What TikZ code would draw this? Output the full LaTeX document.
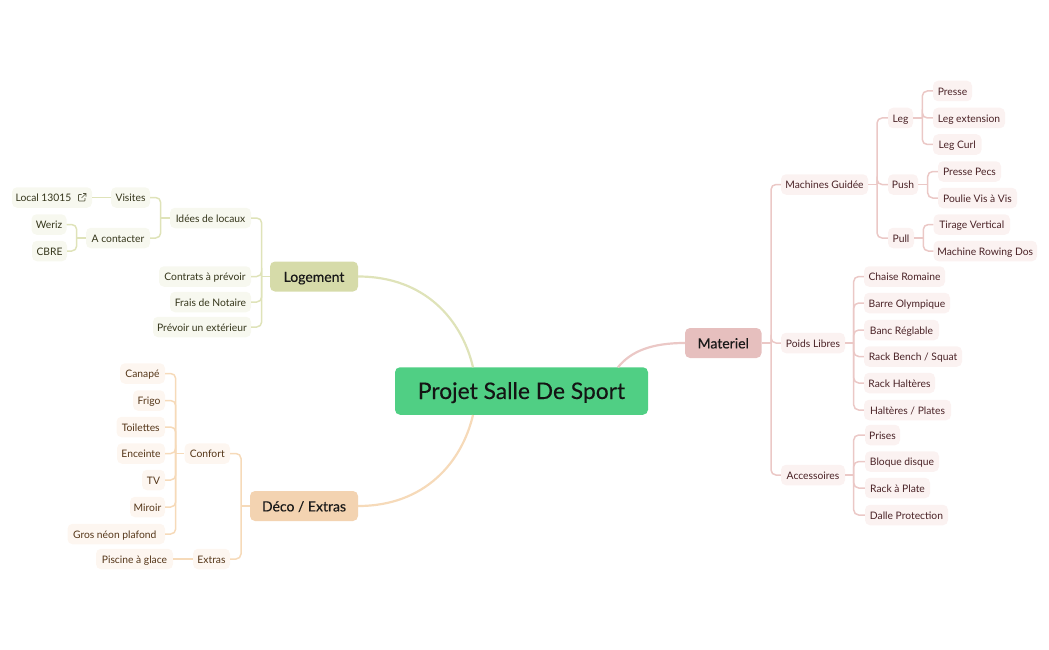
\documentclass[tikz,border=0pt]{standalone}
\usepackage{fontspec}
\setmainfont{Lato}
\newfontfamily\headfont[FakeBold=0.35]{Lato}
\usetikzlibrary{positioning}
\definecolor{rootfill}{HTML}{50CF84}
\definecolor{logfill}{HTML}{D6DBA9}
\definecolor{logleaf}{HTML}{F7F8EF}
\definecolor{logtext}{HTML}{34351A}
\definecolor{logline}{HTML}{DFE3B9}
\definecolor{decofill}{HTML}{F3D3B1}
\definecolor{decoleaf}{HTML}{FDF6F0}
\definecolor{decotext}{HTML}{553618}
\definecolor{decoline}{HTML}{F6DAB9}
\definecolor{matfill}{HTML}{E6BFBE}
\definecolor{matleaf}{HTML}{FBF2F1}
\definecolor{mattext}{HTML}{4A2226}
\definecolor{matline}{HTML}{EBC8C6}
\tikzset{
  box/.style={rounded corners=5pt, inner sep=0pt, align=center},
  leaf/.style={box, minimum height=20.5pt, text height=9.4pt, text depth=1pt, font=\fontsize{10.3}{12}\selectfont},
  logleafbox/.style={leaf, fill=logleaf, text=logtext},
  decoleafbox/.style={leaf, fill=decoleaf, text=decotext},
  matleafbox/.style={leaf, fill=matleaf, text=mattext},
  mainbox/.style={box, minimum height=30pt, text height=11.8pt, text depth=1pt, font=\headfont\fontsize{14}{16}\selectfont, text=black!90},
  twig/.style={line width=1.5pt, rounded corners=5pt},
  limb/.style={line width=2.2pt}
}
\begin{document}
\begin{tikzpicture}[x=1pt, y=-1pt]
\useasboundingbox (0,0) rectangle (1049,650);
% centre
\node[box, fill=rootfill, minimum width=253pt, minimum height=47.5pt, text=black!92, font=\headfont\fontsize{22.8}{24}\selectfont, text height=18pt, text depth=2pt] (Root) at (521.5,391) {Projet Salle De Sport};
\coordinate (RootL) at (473,367.3);
\coordinate (RootD) at (473,415);
\coordinate (RootM) at (618,367.3);
% Logement
\node[mainbox, fill=logfill, minimum width=88pt] (Log) at (314,276.5) {Logement};
\node[logleafbox, minimum width=81pt] (Idees) at (210.5,218) {Idées de locaux};
\node[logleafbox, minimum width=92pt] (Contrats) at (205,276.5) {Contrats à prévoir};
\node[logleafbox, minimum width=81pt] (Frais) at (210.5,302) {Frais de Notaire};
\node[logleafbox, minimum width=98pt] (Prevoir) at (202,327) {Prévoir un extérieur};
\node[logleafbox, minimum width=39pt] (Visites) at (130.5,197.5) {Visites};
\node[logleafbox, minimum width=64pt] (Contact) at (118,238) {A contacter};
\node[logleafbox, minimum width=80pt] (Local) at (52,197.5) {Local 13015\hspace*{17pt}};
\node[logleafbox, minimum width=35pt] (Weriz) at (49,224.5) {Weriz};
\node[logleafbox, minimum width=35pt] (CBRE) at (49.5,251) {CBRE};
\coordinate (LogS) at (261.7,276.5);
\coordinate (IdeesS) at (160.7,218);
\coordinate (ContactS) at (76.7,238);
\foreach \k in {Idees,Contrats,Frais,Prevoir}
  \draw[twig, logline] (\k.east) -- (LogS |- \k.east) -- (LogS);
\draw[twig, logline] (LogS) -- (Log.west);
\foreach \k in {Visites,Contact}
  \draw[twig, logline] (\k.east) -- (IdeesS |- \k.east) -- (IdeesS);
\draw[twig, logline] (IdeesS) -- (Idees.west);
\foreach \k in {Weriz,CBRE}
  \draw[twig, logline] (\k.east) -- (ContactS |- \k.east) -- (ContactS);
\draw[twig, logline] (ContactS) -- (Contact.west);
\draw[twig, logline] (Local.east) -- (Visites.west);
% petit lien externe
\draw[line width=0.7pt, logtext!85, rounded corners=0.6pt] (81.5,194.5) -- (78.5,194.5) -- (78.5,201) -- (85,201) -- (85,198);
\draw[line width=0.7pt, logtext!85] (81.5,198) -- (86,193.5) (83,193.5) -- (86,193.5) -- (86,196.5);
% Deco
\node[mainbox, fill=decofill, minimum width=108pt] (Deco) at (304,506) {Déco / Extras};
\node[decoleafbox, minimum width=45.5pt] (Confort) at (207.25,453.5) {Confort};
\node[decoleafbox, minimum width=37pt] (Extras) at (211.5,559) {Extras};
\node[decoleafbox, minimum width=45pt] (Canape) at (142.5,373.5) {Canapé};
\node[decoleafbox, minimum width=32pt] (Frigo) at (149,400.5) {Frigo};
\node[decoleafbox, minimum width=48.5pt] (Toilettes) at (140.75,427) {Toilettes};
\node[decoleafbox, minimum width=48pt] (Enceinte) at (141,453.5) {Enceinte};
\node[decoleafbox, minimum width=23pt] (TV) at (153.5,480) {TV};
\node[decoleafbox, minimum width=35pt] (Miroir) at (147.5,507) {Miroir};
\node[decoleafbox, minimum width=97.5pt] (Gros) at (116.25,534) {Gros néon plafond\hspace*{3pt}};
\node[decoleafbox, minimum width=77pt] (Piscine) at (134.5,559) {Piscine à glace};
\coordinate (DecoS) at (241,506);
\coordinate (ConfortS) at (175.7,453.5);
\foreach \k in {Confort,Extras}
  \draw[twig, decoline] (\k.east) -- (DecoS |- \k.east) -- (DecoS);
\draw[twig, decoline] (DecoS) -- (Deco.west);
\foreach \k in {Canape,Frigo,Toilettes,Enceinte,TV,Miroir,Gros}
  \draw[twig, decoline] (\k.east) -- (ConfortS |- \k.east) -- (ConfortS);
\draw[twig, decoline] (ConfortS) -- (Confort.west);
\draw[twig, decoline] (Piscine.east) -- (Extras.west);
% Materiel
\node[mainbox, fill=matfill, minimum width=76.5pt] (Mat) at (723.25,343) {Materiel};
\node[matleafbox, minimum width=87pt] (Machines) at (824.5,184.5) {Machines Guidée};
\node[matleafbox, minimum width=64pt] (Poids) at (813,343) {Poids Libres};
\node[matleafbox, minimum width=64pt] (Acc) at (813,475) {Accessoires};
\node[matleafbox, minimum width=25pt] (Leg) at (900.5,118) {Leg};
\node[matleafbox, minimum width=30pt] (Push) at (903,184.5) {Push};
\node[matleafbox, minimum width=26pt] (Pull) at (901,238) {Pull};
\node[matleafbox, minimum width=39pt] (Presse) at (952.5,91) {Presse};
\node[matleafbox, minimum width=72pt] (LegExt) at (969,118) {Leg extension};
\node[matleafbox, minimum width=48.5pt] (LegCurl) at (957.25,144.5) {Leg Curl};
\node[matleafbox, minimum width=63pt] (Pecs) at (969.5,171.5) {Presse Pecs};
\node[matleafbox, minimum width=79pt] (Poulie) at (977.5,198) {Poulie Vis à Vis};
\node[matleafbox, minimum width=76.5pt] (Tirage) at (971.75,224.5) {Tirage Vertical};
\node[matleafbox, minimum width=103.5pt] (Rowing) at (985.25,251) {Machine Rowing Dos};
\node[matleafbox, minimum width=81pt] (Chaise) at (904.5,276.5) {Chaise Romaine};
\node[matleafbox, minimum width=86pt] (Barre) at (907,303) {Barre Olympique};
\node[matleafbox, minimum width=75pt] (Banc) at (901.5,330) {Banc Réglable};
\node[matleafbox, minimum width=98pt] (Bench) at (913,356.5) {Rack Bench / Squat};
\node[matleafbox, minimum width=71pt] (Halt) at (899.5,383) {Rack Haltères};
\node[matleafbox, minimum width=87pt] (Plates) at (907.5,410) {Haltères / Plates};
\node[matleafbox, minimum width=35pt] (Prises) at (882.5,435) {Prises};
\node[matleafbox, minimum width=74pt] (Bloque) at (902,461.5) {Bloque disque};
\node[matleafbox, minimum width=65pt] (Plate) at (897.5,488) {Rack à Plate};
\node[matleafbox, minimum width=83pt] (Dalle) at (906.5,515) {Dalle Protection};
\coordinate (MatS) at (771,343);
\coordinate (MachinesS) at (877,184.5);
\coordinate (PoidsS) at (853.7,343);
\coordinate (AccS) at (853.7,475);
\coordinate (LegS) at (922.3,118);
\coordinate (PushS) at (927.7,184.5);
\coordinate (PullS) at (923.3,238);
\draw[twig, matline] (Mat.east) -- (MatS);
\foreach \k in {Machines,Poids,Acc}
  \draw[twig, matline] (MatS) -- (MatS |- \k.west) -- (\k.west);
\draw[twig, matline] (Machines.east) -- (MachinesS);
\foreach \k in {Leg,Push,Pull}
  \draw[twig, matline] (MachinesS) -- (MachinesS |- \k.west) -- (\k.west);
\draw[twig, matline] (Leg.east) -- (LegS);
\foreach \k in {Presse,LegExt,LegCurl}
  \draw[twig, matline] (LegS) -- (LegS |- \k.west) -- (\k.west);
\draw[twig, matline] (Push.east) -- (PushS);
\foreach \k in {Pecs,Poulie}
  \draw[twig, matline] (PushS) -- (PushS |- \k.west) -- (\k.west);
\draw[twig, matline] (Pull.east) -- (PullS);
\foreach \k in {Tirage,Rowing}
  \draw[twig, matline] (PullS) -- (PullS |- \k.west) -- (\k.west);
\draw[twig, matline] (Poids.east) -- (PoidsS);
\foreach \k in {Chaise,Barre,Banc,Bench,Halt,Plates}
  \draw[twig, matline] (PoidsS) -- (PoidsS |- \k.west) -- (\k.west);
\draw[twig, matline] (Acc.east) -- (AccS);
\foreach \k in {Prises,Bloque,Plate,Dalle}
  \draw[twig, matline] (AccS) -- (AccS |- \k.west) -- (\k.west);
% vers le centre
\draw[limb, logline] (Log.east) .. controls (425,276.5) and (462,320) .. (RootL);
\draw[limb, decoline] (Deco.east) .. controls (425,506) and (462,462) .. (RootD);
\draw[limb, matline] (Mat.west) .. controls (652,343) and (631,351) .. (RootM);
\end{tikzpicture}
\end{document}
